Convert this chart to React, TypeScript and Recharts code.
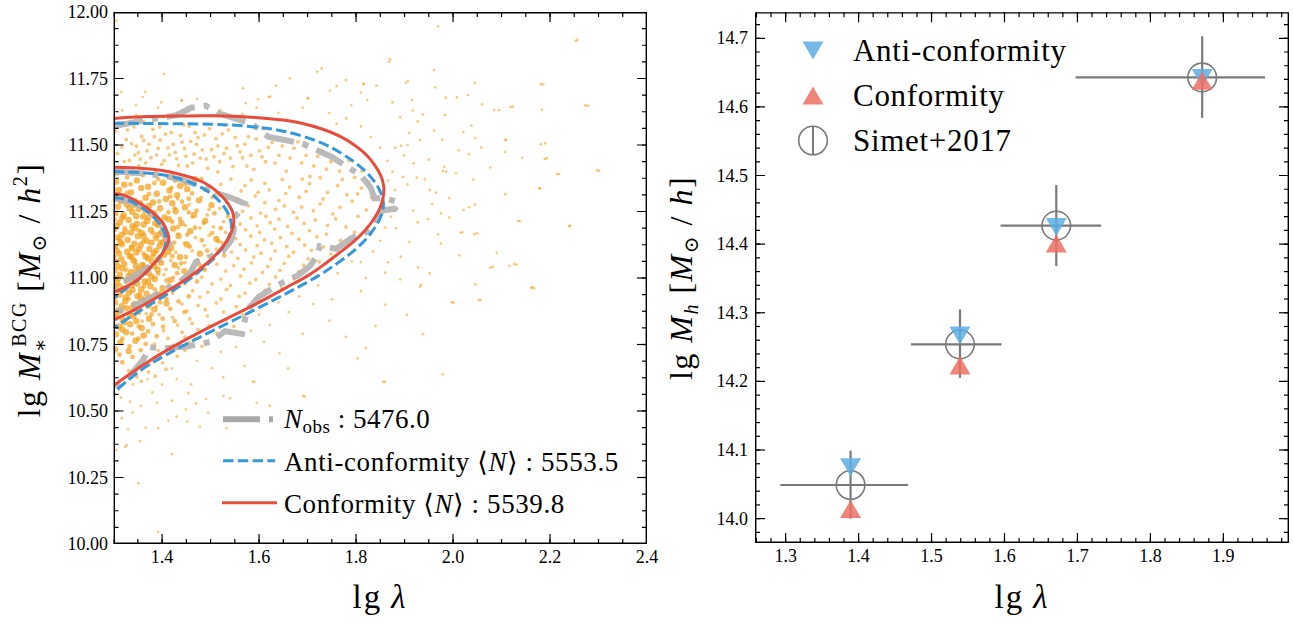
import React from 'react';
import { ScatterChart, Scatter, XAxis, YAxis, ErrorBar } from 'recharts';

const FONT = '"Liberation Serif", "DejaVu Serif", serif';

// ---------------- Left panel: axes ----------------
const leftXDomain = [1.3, 2.4];
const leftYDomain = [10.0, 12.0];
const leftXMajor = [1.4, 1.6, 1.8, 2.0, 2.2, 2.4];
const leftXLabels = ['1.4', '1.6', '1.8', '2.0', '2.2', '2.4'];
const leftYMajor = [10.0, 10.25, 10.5, 10.75, 11.0, 11.25, 11.5, 11.75, 12.0];
const leftYLabels = ['10.00', '10.25', '10.50', '10.75', '11.00', '11.25', '11.50', '11.75', '12.00'];

// ---------------- Right panel: axes ----------------
const rightXDomain = [1.258, 1.99];
const rightYDomain = [13.9645, 14.738];
const rightXMajor = [1.3, 1.4, 1.5, 1.6, 1.7, 1.8, 1.9];
const rightXLabels = ['1.3', '1.4', '1.5', '1.6', '1.7', '1.8', '1.9'];
const rightYMajor = [14.0, 14.1, 14.2, 14.3, 14.4, 14.5, 14.6, 14.7];
const rightYLabels = ['14.0', '14.1', '14.2', '14.3', '14.4', '14.5', '14.6', '14.7'];

// ---------------- Left panel: legend numbers ----------------
const nObs = '5476.0';
const nAnti = '5553.5';
const nConf = '5539.8';

// ---------------- Left panel: contours (lg lambda, lg M*) ----------------
const redOuter = [
  [1.300, 11.600], [1.360, 11.606], [1.430, 11.609], [1.500, 11.610], [1.560, 11.607], [1.610, 11.601],
  [1.650, 11.594], [1.690, 11.581], [1.730, 11.560], [1.765, 11.534], [1.795, 11.502], [1.820, 11.465],
  [1.838, 11.425], [1.851, 11.385], [1.857, 11.345], [1.856, 11.305], [1.849, 11.262], [1.836, 11.220],
  [1.818, 11.178], [1.795, 11.137], [1.768, 11.098], [1.735, 11.052], [1.700, 11.008], [1.655, 10.963],
  [1.590, 10.899], [1.500, 10.817], [1.420, 10.739], [1.360, 10.672], [1.300, 10.596],
];
const blueOuter = [
  [1.300, 11.582], [1.360, 11.581], [1.430, 11.580], [1.500, 11.578], [1.560, 11.573], [1.610, 11.564],
  [1.650, 11.552], [1.690, 11.533], [1.730, 11.507], [1.765, 11.474], [1.795, 11.438], [1.820, 11.400],
  [1.838, 11.362], [1.850, 11.325], [1.856, 11.290], [1.855, 11.255], [1.847, 11.215], [1.832, 11.172],
  [1.812, 11.130], [1.787, 11.090], [1.757, 11.050], [1.722, 11.008], [1.680, 10.965], [1.630, 10.917],
  [1.565, 10.857], [1.490, 10.789], [1.410, 10.713], [1.350, 10.645], [1.300, 10.568],
];
const redMid = [
  [1.300, 11.416], [1.360, 11.412], [1.400, 11.404], [1.430, 11.393], [1.460, 11.378], [1.485, 11.360],
  [1.505, 11.337], [1.522, 11.310], [1.536, 11.280], [1.545, 11.250], [1.548, 11.220], [1.546, 11.190],
  [1.540, 11.160], [1.528, 11.125], [1.512, 11.090], [1.492, 11.055], [1.468, 11.020], [1.440, 10.984],
  [1.410, 10.950], [1.380, 10.917], [1.345, 10.882], [1.300, 10.842],
];
const blueMid = [
  [1.300, 11.400], [1.360, 11.396], [1.400, 11.388], [1.430, 11.376], [1.460, 11.358], [1.485, 11.336],
  [1.505, 11.311], [1.520, 11.285], [1.532, 11.256], [1.540, 11.226], [1.543, 11.196], [1.539, 11.160],
  [1.529, 11.125], [1.514, 11.090], [1.494, 11.052], [1.470, 11.015], [1.442, 10.977], [1.411, 10.940],
  [1.380, 10.905], [1.345, 10.866], [1.300, 10.811],
];
const redInner = [
  [1.300, 11.318], [1.320, 11.312], [1.340, 11.296], [1.360, 11.274], [1.378, 11.250], [1.393, 11.225],
  [1.404, 11.200], [1.411, 11.172], [1.414, 11.150], [1.411, 11.125], [1.403, 11.100], [1.392, 11.072],
  [1.378, 11.045], [1.360, 11.010], [1.340, 10.982], [1.320, 10.962], [1.300, 10.947],
];
const blueInner = [
  [1.300, 11.303], [1.320, 11.298], [1.340, 11.284], [1.360, 11.262], [1.377, 11.238], [1.391, 11.212],
  [1.401, 11.186], [1.407, 11.160], [1.408, 11.135], [1.404, 11.108], [1.395, 11.080], [1.382, 11.050],
  [1.364, 11.015], [1.344, 10.984], [1.322, 10.955], [1.300, 10.924],
];
const grayOuter = [
  [1.300, 11.570], [1.340, 11.585], [1.390, 11.600], [1.430, 11.612], [1.460, 11.640], [1.490, 11.648],
  [1.515, 11.620], [1.550, 11.600], [1.585, 11.580], [1.620, 11.530], [1.650, 11.520], [1.690, 11.505],
  [1.720, 11.480], [1.750, 11.455], [1.780, 11.420], [1.810, 11.385], [1.830, 11.340], [1.838, 11.300],
  [1.860, 11.300], [1.888, 11.285], [1.880, 11.260], [1.855, 11.255], [1.838, 11.215], [1.825, 11.175],
  [1.790, 11.150], [1.760, 11.110], [1.725, 11.120], [1.720, 11.085], [1.705, 11.045], [1.680, 11.010],
  [1.640, 10.975], [1.600, 10.930], [1.575, 10.880], [1.565, 10.790], [1.530, 10.800], [1.500, 10.760],
  [1.450, 10.742], [1.400, 10.735], [1.375, 10.740], [1.360, 10.690], [1.330, 10.625], [1.300, 10.585],
];
const grayMid = [
  [1.300, 11.400], [1.350, 11.395], [1.400, 11.385], [1.440, 11.370], [1.480, 11.345], [1.515, 11.318],
  [1.545, 11.300], [1.570, 11.280], [1.560, 11.250], [1.545, 11.220], [1.548, 11.180], [1.542, 11.140],
  [1.525, 11.100], [1.500, 11.080], [1.470, 11.060], [1.458, 11.020], [1.440, 10.990], [1.410, 10.960],
  [1.380, 10.930], [1.340, 10.895], [1.300, 10.870],
];
const grayInner = [
  [1.300, 11.300], [1.330, 11.290], [1.360, 11.268], [1.385, 11.235], [1.400, 11.200], [1.405, 11.160],
  [1.415, 11.130], [1.405, 11.100], [1.390, 11.065], [1.370, 11.040], [1.345, 11.010], [1.320, 10.985],
  [1.305, 10.960],
];

// ---------------- Left panel: observed clusters (dense core) ----------------
const coreClusters = [
  [1.305,11.362],[1.322,11.351],[1.348,11.367],[1.371,11.343],[1.402,11.358],[1.437,11.346],[1.468,11.371],
  [1.311,11.331],[1.336,11.322],[1.357,11.338],[1.389,11.317],[1.415,11.329],[1.452,11.334],
  [1.302,11.298],[1.318,11.306],[1.344,11.289],[1.366,11.302],[1.381,11.284],[1.408,11.297],[1.431,11.311],[1.476,11.292],
  [1.309,11.268],[1.327,11.276],[1.352,11.259],[1.373,11.271],[1.396,11.262],[1.421,11.281],[1.447,11.266],[1.502,11.274],
  [1.304,11.243],[1.321,11.236],[1.339,11.248],[1.361,11.231],[1.384,11.244],[1.405,11.228],[1.428,11.251],[1.466,11.237],
  [1.313,11.209],[1.331,11.218],[1.348,11.203],[1.369,11.214],[1.392,11.199],[1.414,11.221],[1.440,11.206],[1.489,11.215],
  [1.301,11.183],[1.324,11.174],[1.343,11.188],[1.358,11.169],[1.377,11.181],[1.399,11.172],[1.423,11.186],[1.458,11.176],
  [1.308,11.152],[1.329,11.143],[1.350,11.157],[1.368,11.139],[1.387,11.151],[1.407,11.146],[1.434,11.158],[1.512,11.147],
  [1.303,11.118],[1.317,11.127],[1.338,11.112],[1.356,11.124],[1.374,11.109],[1.395,11.121],[1.419,11.114],[1.451,11.126],
  [1.311,11.092],[1.333,11.083],[1.347,11.096],[1.366,11.081],[1.383,11.094],[1.404,11.087],[1.437,11.079],[1.478,11.091],
  [1.305,11.061],[1.322,11.053],[1.341,11.066],[1.359,11.048],[1.379,11.062],[1.398,11.057],[1.426,11.049],
  [1.302,11.028],[1.318,11.036],[1.336,11.022],[1.353,11.033],[1.372,11.019],[1.391,11.031],[1.446,11.026],
  [1.309,10.998],[1.327,10.991],[1.345,11.004],[1.364,10.987],[1.385,10.996],[1.418,10.993],
  [1.304,10.968],[1.321,10.961],[1.338,10.974],[1.357,10.958],[1.376,10.969],[1.401,10.962],
  [1.312,10.938],[1.331,10.945],[1.349,10.932],[1.368,10.941],[1.392,10.936],
  [1.303,10.907],[1.324,10.913],[1.343,10.902],[1.362,10.917],[1.409,10.904],
  [1.308,10.878],[1.327,10.886],[1.351,10.873],[1.384,10.882],
  [1.302,10.851],[1.319,10.843],[1.341,10.856],[1.373,10.847],
  [1.311,10.818],[1.334,10.826],[1.358,10.812],
  [1.305,10.788],[1.326,10.796],[1.362,10.784],
  [1.314,10.758],[1.345,10.764],
  [1.303,10.731],[1.331,10.726],
  [1.315,11.289],[1.333,11.262],[1.355,11.281],[1.318,11.227],[1.347,11.232],[1.372,11.229],[1.307,11.197],[1.339,11.195],[1.362,11.201],[1.386,11.206],
  [1.317,11.163],[1.336,11.171],[1.362,11.158],[1.392,11.163],[1.314,11.135],[1.343,11.129],[1.378,11.133],[1.402,11.133],[1.306,11.104],[1.328,11.099],
  [1.352,11.108],[1.388,11.103],[1.413,11.099],[1.316,11.071],[1.337,11.079],[1.371,11.074],[1.392,11.069],[1.309,11.043],[1.346,11.046],[1.365,11.037],
  [1.384,11.045],[1.313,11.012],[1.331,11.009],[1.357,11.016],[1.378,11.006],[1.307,10.983],[1.349,10.979],[1.371,10.986],[1.316,10.953],[1.339,10.955],
  [1.325,10.927],[1.356,10.924],[1.317,10.894],[1.339,10.889],[1.372,10.896],[1.306,10.866],[1.333,10.862],[1.322,10.834],[1.347,10.838],[1.318,10.806],
];

// ---------------- Left panel: observed clusters (around the middle contour) ----------------
const ringClusters = [
  [1.447,11.352],[1.462,11.318],[1.489,11.331],[1.427,11.366],[1.481,11.372],[1.513,11.318],[1.419,11.339],[1.455,11.298],[1.471,11.253],[1.508,11.243],
  [1.536,11.232],[1.521,11.187],[1.486,11.207],[1.455,11.247],[1.437,11.222],[1.468,11.189],[1.503,11.169],[1.538,11.152],[1.516,11.138],[1.482,11.142],
  [1.452,11.163],[1.425,11.133],[1.457,11.118],[1.493,11.103],[1.528,11.085],[1.505,11.071],[1.478,11.047],[1.449,11.079],[1.421,11.082],[1.439,11.055],
  [1.488,11.031],[1.457,11.004],[1.431,11.018],[1.409,10.991],[1.447,10.981],[1.472,10.987],[1.425,10.957],[1.455,10.931],[1.409,10.921],[1.434,10.912],
  [1.396,10.908],[1.417,10.884],[1.446,10.872],[1.401,10.847],[1.378,10.863],[1.426,10.838],[1.381,10.827],[1.352,10.818],[1.402,10.817],[1.371,10.799],
  [1.338,10.791],[1.389,10.781],[1.351,10.772],[1.318,10.772],[1.366,10.752],[1.333,10.743],[1.312,10.712],[1.356,10.728],[1.339,10.703],[1.318,10.683],
  [1.307,11.392],[1.328,11.378],[1.361,11.387],[1.392,11.372],[1.411,11.384],[1.335,11.352],[1.384,11.357],[1.417,11.306],[1.441,11.287],[1.426,11.262],
  [1.413,11.247],[1.432,11.191],[1.421,11.211],[1.301,11.331],[1.327,11.319],[1.373,11.316],[1.394,11.288],[1.342,11.271],[1.364,11.249],[1.387,11.226],
  [1.323,11.187],[1.302,11.219],[1.352,11.179],[1.381,11.169],[1.404,11.161],[1.312,11.147],[1.336,11.117],[1.361,11.139],[1.396,11.137],[1.302,11.081],
  [1.344,11.062],[1.362,11.092],[1.381,11.082],[1.326,11.031],[1.344,11.027],[1.361,11.052],[1.392,11.017],[1.302,11.003],[1.338,10.994],[1.363,10.969],
  [1.385,10.957],[1.313,10.972],[1.331,10.921],[1.304,10.927],[1.354,10.941],[1.379,10.931],[1.315,10.873],[1.352,10.892],[1.366,10.902],[1.302,10.822],
];

// ---------------- Left panel: observed clusters (inside outer contour) ----------------
const midClusters = [
  [1.304,11.552],[1.317,11.493],[1.326,11.521],[1.333,11.442],[1.342,11.568],[1.351,11.471],[1.358,11.532],[1.366,11.433],[1.373,11.503],[1.381,11.559],
  [1.389,11.462],[1.396,11.518],[1.404,11.441],[1.412,11.489],[1.419,11.547],[1.427,11.472],[1.434,11.423],[1.441,11.511],[1.449,11.458],[1.456,11.571],
  [1.463,11.432],[1.471,11.502],[1.479,11.451],[1.487,11.538],[1.494,11.413],[1.502,11.483],[1.511,11.524],[1.519,11.437],[1.528,11.468],[1.537,11.556],
  [1.546,11.419],[1.555,11.497],[1.566,11.452],[1.578,11.531],[1.589,11.408],[1.601,11.478],[1.613,11.437],[1.627,11.509],[1.641,11.461],[1.656,11.402],
  [1.672,11.488],[1.688,11.433],[1.705,11.382],[1.721,11.458],[1.739,11.409],[1.312,11.583],[1.362,11.587],[1.445,11.576],[1.530,11.574],[1.610,11.561],
  [1.318,11.412],[1.339,11.391],[1.352,11.421],[1.386,11.398],[1.421,11.389],[1.347,11.496],[1.395,11.568],[1.468,11.547],[1.515,11.399],[1.575,11.421],
  [1.521,11.352],[1.571,11.348],[1.612,11.356],[1.663,11.342],[1.704,11.355],[1.762,11.347],[1.811,11.338],
  [1.503,11.302],[1.556,11.296],[1.592,11.308],[1.641,11.291],[1.683,11.304],[1.732,11.297],[1.792,11.289],
  [1.566,11.251],[1.603,11.244],[1.634,11.258],[1.671,11.247],[1.712,11.253],[1.752,11.241],[1.821,11.256],
  [1.561,11.203],[1.596,11.196],[1.623,11.208],[1.659,11.194],[1.693,11.205],[1.741,11.198],[1.779,11.192],
  [1.552,11.148],[1.583,11.157],[1.611,11.143],[1.644,11.152],[1.682,11.146],[1.719,11.155],[1.768,11.141],
  [1.543,11.098],[1.572,11.106],[1.604,11.093],[1.633,11.102],[1.671,11.097],[1.708,11.104],[1.748,11.091],
  [1.513,11.052],[1.548,11.046],[1.584,11.057],[1.618,11.043],[1.652,11.055],[1.692,11.048],[1.724,11.061],
  [1.482,11.003],[1.521,10.996],[1.562,11.007],[1.593,10.994],[1.634,11.004],[1.672,10.997],
  [1.463,10.952],[1.494,10.946],[1.533,10.957],[1.571,10.943],[1.612,10.954],[1.647,10.962],
  [1.441,10.903],[1.474,10.897],[1.512,10.906],[1.553,10.892],[1.591,10.901],
  [1.422,10.852],[1.457,10.846],[1.493,10.857],[1.532,10.843],[1.567,10.861],
  [1.403,10.802],[1.441,10.796],[1.474,10.806],[1.512,10.793],
  [1.384,10.752],[1.423,10.747],[1.456,10.756],[1.482,10.743],
  [1.362,10.702],[1.393,10.696],[1.431,10.706],
  [1.331,10.652],[1.372,10.647],[1.408,10.657],
  [1.432,11.298],[1.456,11.276],[1.481,11.303],[1.497,11.258],[1.519,11.262],[1.462,11.229],[1.493,11.237],[1.527,11.212],[1.448,11.197],[1.478,11.188],
  [1.506,11.192],[1.531,11.171],[1.433,11.166],[1.469,11.152],[1.497,11.161],[1.523,11.133],[1.446,11.131],[1.487,11.122],[1.512,11.108],[1.428,11.097],
  [1.462,11.102],[1.495,11.083],[1.418,11.066],[1.447,11.058],[1.473,11.068],[1.408,11.032],[1.434,11.038],[1.461,11.027],[1.404,11.012],[1.423,11.003],
  [1.413,10.977],[1.436,10.968],[1.397,10.948],[1.422,10.943],[1.381,10.922],[1.401,10.927],[1.388,10.893],[1.367,10.866],[1.394,10.862],[1.359,10.838],
  [1.308,11.468],[1.322,11.438],[1.329,11.557],[1.337,11.505],[1.344,11.462],[1.355,11.447],[1.362,11.517],[1.369,11.478],[1.377,11.452],[1.384,11.531],
  [1.392,11.487],[1.399,11.428],[1.407,11.541],[1.415,11.463],[1.423,11.502],[1.430,11.448],[1.438,11.536],[1.446,11.487],[1.452,11.421],[1.459,11.514],
  [1.466,11.466],[1.474,11.528],[1.483,11.482],[1.491,11.447],[1.498,11.561],[1.507,11.456],[1.515,11.497],[1.524,11.542],[1.533,11.488],[1.541,11.451],
  [1.551,11.529],[1.561,11.474],[1.571,11.503],[1.583,11.461],[1.594,11.523],[1.606,11.455],[1.619,11.491],[1.633,11.432],[1.648,11.497],[1.664,11.451],
  [1.680,11.512],[1.697,11.461],[1.713,11.421],[1.730,11.478],[1.748,11.437],[1.766,11.402],[1.785,11.441],[1.797,11.378],[1.812,11.402],[1.826,11.361],
  [1.542,11.372],[1.563,11.327],[1.584,11.368],[1.598,11.322],[1.621,11.331],[1.648,11.371],[1.655,11.318],[1.689,11.372],[1.697,11.326],[1.726,11.377],
  [1.741,11.322],[1.772,11.371],[1.781,11.313],[1.803,11.316],[1.832,11.302],[1.578,11.272],[1.612,11.283],[1.652,11.271],[1.688,11.267],[1.726,11.279],
  [1.767,11.266],[1.804,11.232],[1.583,11.226],[1.614,11.232],[1.641,11.221],[1.678,11.226],[1.716,11.218],[1.758,11.222],[1.797,11.172],[1.572,11.182],
  [1.601,11.171],[1.632,11.184],[1.668,11.168],[1.704,11.178],[1.739,11.165],[1.561,11.126],[1.596,11.122],[1.626,11.131],[1.657,11.118],[1.694,11.124],
  [1.733,11.117],[1.556,11.074],[1.589,11.079],[1.624,11.071],[1.661,11.081],[1.701,11.072],[1.531,11.026],[1.569,11.033],[1.607,11.021],[1.643,11.029],
  [1.682,11.024],[1.503,10.978],[1.541,10.972],[1.581,10.981],[1.621,10.976],[1.478,10.928],[1.521,10.921],[1.559,10.931],[1.600,10.925],[1.451,10.876],
  [1.489,10.881],[1.527,10.872],[1.548,10.818],[1.432,10.823],[1.462,10.829],[1.497,10.821],[1.412,10.773],[1.447,10.779],[1.468,10.772],[1.392,10.727],
  [1.418,10.721],[1.447,10.728],[1.374,10.674],[1.401,10.681],[1.348,10.628],[1.386,10.631],[1.321,10.604],[1.357,10.611],
];

// ---------------- Left panel: observed clusters (sparse outskirts) ----------------
const sparseClusters = [
  [1.969,11.945],[2.253,11.892],[1.868,11.813],[1.961,11.782],[1.815,11.732],[1.842,11.723],[1.903,11.734],[1.963,11.717],[2.045,11.734],[2.181,11.729],
  [1.810,11.697],[1.875,11.660],[1.915,11.669],[1.985,11.678],[2.031,11.688],[2.060,11.653],[2.085,11.632],[2.095,11.631],[2.118,11.643],[2.183,11.633],
  [2.273,11.649],[1.917,11.630],[1.891,11.604],[1.938,11.614],[1.983,11.612],[1.927,11.589],[2.038,11.573],[1.961,11.554],[2.021,11.548],[1.910,11.546],
  [2.046,11.526],[1.978,11.520],[1.932,11.519],[2.109,11.519],[2.181,11.503],[1.881,11.490],[1.893,11.497],[1.906,11.501],[2.012,11.480],[2.033,11.466],
  [2.058,11.491],[2.107,11.474],[2.143,11.452],[2.189,11.447],[1.899,11.461],[1.919,11.431],[1.950,11.445],[1.982,11.418],[2.006,11.394],[2.077,11.415],
  [2.214,11.391],[2.297,11.405],[1.897,11.380],[1.925,11.377],[1.942,11.371],[1.979,11.402],[1.906,11.352],[1.866,11.366],[1.952,11.331],[1.965,11.321],
  [2.042,11.370],[2.178,11.336],[1.992,11.300],[1.957,11.278],[2.033,11.266],[2.022,11.256],[1.918,11.253],[1.948,11.221],[1.992,11.227],[1.927,11.209],
  [2.134,11.214],[2.240,11.195],[1.882,11.187],[2.016,11.170],[2.044,11.164],[1.969,11.163],[1.910,11.135],[1.975,11.130],[2.013,11.085],[2.090,11.095],
  [1.892,11.080],[1.866,11.059],[1.928,11.040],[1.952,11.018],[2.077,11.039],[2.116,11.046],[2.126,11.053],[1.891,10.995],[1.932,10.967],[2.161,10.963],
  [2.046,10.976],[1.998,10.909],[2.053,10.917],
  [1.306,11.967],[1.404,11.767],[1.729,11.788],[1.720,11.776],[1.664,11.751],[1.635,11.723],[1.567,11.713],[1.316,11.700],[1.365,11.700],[1.441,11.667],
  [1.472,11.673],[1.346,11.650],[1.398,11.660],[1.572,11.657],[1.598,11.672],[1.623,11.682],[1.701,11.676],[1.746,11.704],[1.760,11.722],[1.779,11.744],
  [1.816,11.728],[1.823,11.669],[1.870,11.822],[1.907,11.741],[2.008,11.679],[2.123,11.644],[2.186,11.728],[2.256,11.895],[2.278,11.648],[2.301,11.403],
  [2.219,11.391],[2.179,11.337],[2.241,11.196],[2.138,11.214],[2.108,11.315],[2.045,11.276],[2.019,11.172],[2.049,11.168],[2.131,11.049],[2.082,11.042],
  [2.164,10.965],[1.934,10.974],[1.986,11.400],[1.975,11.243],[2.108,11.519],[2.190,11.506],[2.193,11.450],
  [1.318,11.630],[1.347,11.612],[1.392,11.641],[1.431,11.622],[1.470,11.611],[1.520,11.632],[1.566,11.616],[1.595,11.641],[1.360,11.680],[1.440,11.668],
  [1.620,11.680],[1.700,11.675],[1.640,11.621],[1.690,11.640],[1.745,11.620],[1.780,11.600],[1.810,11.570],[1.830,11.530],[1.850,11.490],[1.865,11.440],
  [1.875,11.400],[1.880,11.330],[1.873,11.290],[1.872,11.230],[1.860,11.190],[1.850,11.140],[1.835,11.100],[1.810,11.060],[1.820,11.000],[1.860,11.020],
  [1.760,11.580],[1.790,11.650],
  [1.600,10.862],[1.640,10.908],[1.683,10.931],[1.722,10.972],[1.762,11.018],[1.791,11.062],[1.661,10.872],[1.712,10.902],[1.622,10.823],[1.583,10.802],
  [1.552,10.741],[1.521,10.722],[1.472,10.689],[1.503,10.661],[1.642,10.717],[1.590,10.610],[1.694,10.554],[1.527,10.556],[1.779,10.779],[1.803,10.698],
  [1.820,10.736],[1.860,10.610],[1.979,10.638],[1.905,10.861],[1.938,10.789],[2.001,10.907],[2.057,10.917],[2.167,10.961],[1.745,10.840],[1.690,10.790],
  [1.660,10.660],[1.750,10.920],[1.810,10.950],[1.860,10.900],[1.840,10.820],[1.570,10.670],[1.610,10.760],
  [1.317,10.473],[1.330,10.431],[1.327,10.372],[1.354,10.387],[1.306,10.353],[1.351,10.228],[1.420,10.338],[1.392,10.046],[1.366,10.437],[1.392,10.435],
  [1.413,10.464],[1.430,10.479],[1.452,10.460],[1.478,10.441],[1.495,10.494],[1.533,10.435],[1.526,10.627],[1.587,10.610],[1.691,10.556],[1.856,10.610],
  [1.420,10.539],[1.454,10.567],[1.470,10.529],[1.491,10.545],[1.540,10.548],[1.595,10.531],[1.622,10.520],[1.449,10.506],[1.389,10.531],[1.334,10.535],
  [1.356,10.519],[1.339,10.494],[1.324,10.366],[1.310,10.580],[1.340,10.600],[1.370,10.620],[1.400,10.600],[1.430,10.620],[1.460,10.600],[1.380,10.570],
  [1.315,10.550],[1.420,10.660],[1.350,10.670],
];

// ---------------- Right panel: halo mass vs richness ----------------
const binLambda = [1.389, 1.539, 1.671, 1.871];
const binLambdaLo = [0.0964, 0.0672, 0.0764, 0.1734];
const binLambdaHi = [0.0787, 0.0569, 0.0614, 0.0861];
const simetMass = [14.049, 14.254, 14.427, 14.643];
const simetMassLo = [0.049, 0.049, 0.059, 0.059];
const simetMassHi = [0.050, 0.051, 0.059, 0.060];
const antiMass = [14.075, 14.267, 14.425, 14.642];
const confMass = [14.014, 14.223, 14.401, 14.638];

// ---------------- helpers ----------------
function steps(a: number, b: number, s: number): number[] {
  const out: number[] = [];
  const n = Math.round((b - a) / s);
  for (let i = 0; i <= n; i++) out.push(Number((a + i * s).toFixed(6)));
  return out;
}
const toPts = (arr: number[][]) => arr.map(([x, y]) => ({ x, y }));

const leftXMinor = steps(1.3, 2.4, 0.05);
const leftYMinor = steps(10.0, 12.0, 0.0625);
const rightXMinor = steps(1.26, 1.98, 0.02);
const rightYMinor = steps(13.98, 14.72, 0.02);

const emptyShape = () => <g />;

function labelTick(orient: 'bottom' | 'left', majors: number[], labels: string[], gap: number) {
  return (props: any) => {
    const x = Number(props.x);
    const y = Number(props.y);
    const v = Number(props.payload.value);
    const i = majors.findIndex((m) => Math.abs(m - v) < 1e-6);
    if (i < 0) return <g />;
    if (orient === 'bottom')
      return (
        <text x={x} y={y + 19} textAnchor="middle" fontFamily={FONT} fontSize={18} fill="#000">
          {labels[i]}
        </text>
      );
    return (
      <text x={x - gap} y={y + 6} textAnchor="end" fontFamily={FONT} fontSize={18} fill="#000">
        {labels[i]}
      </text>
    );
  };
}

// tick marks drawn as scatter glyphs anchored on the plot edges
const tickGlyph = (dx: number, dy: number) => (p: any) => (
  <path d={`M${p.cx},${p.cy}L${p.cx + dx},${p.cy + dy}`} stroke="#000" strokeWidth={1.2} fill="none" />
);

function frameSeries(xd: number[], yd: number[], xMaj: number[], xMin: number[], yMaj: number[], yMin: number[]) {
  const X0 = xd[0], X1 = xd[1], Y0 = yd[0], Y1 = yd[1];
  const box = [{ x: X0, y: Y0 }, { x: X1, y: Y0 }, { x: X1, y: Y1 }, { x: X0, y: Y1 }, { x: X0, y: Y0 }];
  const defs: [string, any[], number, number][] = [
    ['bM', xMaj.map((v) => ({ x: v, y: Y0 })), 0, -10],
    ['bm', xMin.map((v) => ({ x: v, y: Y0 })), 0, -5],
    ['tM', xMaj.map((v) => ({ x: v, y: Y1 })), 0, 10],
    ['tm', xMin.map((v) => ({ x: v, y: Y1 })), 0, 5],
    ['lM', yMaj.map((v) => ({ x: X0, y: v })), 10, 0],
    ['lm', yMin.map((v) => ({ x: X0, y: v })), 5, 0],
    ['rM', yMaj.map((v) => ({ x: X1, y: v })), -10, 0],
    ['rm', yMin.map((v) => ({ x: X1, y: v })), -5, 0],
  ];
  return [
    ...defs.map(([k, d, dx, dy]) => (
      <Scatter key={k} xAxisId="xb" yAxisId="yl" data={d} shape={tickGlyph(dx, dy)} isAnimationActive={false} />
    )),
    <Scatter
      key="frame" xAxisId="xb" yAxisId="yl" data={box} shape={emptyShape} isAnimationActive={false}
      line={{ stroke: '#000', strokeWidth: 2.8 }} lineJointType="linear"
    />,
  ];
}

const dotShape = (r: number, fill: string, op: number) => (p: any) => (
  <circle cx={p.cx} cy={p.cy} r={r} fill={fill} fillOpacity={op} />
);
const triDown = (p: any) => (
  <polygon
    points={`${p.cx - 10.5},${p.cy - 9} ${p.cx + 10.5},${p.cy - 9} ${p.cx},${p.cy + 9}`}
    fill="#5DADE2"
    fillOpacity={0.85}
  />
);
const triUp = (p: any) => (
  <polygon
    points={`${p.cx - 10.5},${p.cy + 9} ${p.cx + 10.5},${p.cy + 9} ${p.cx},${p.cy - 9}`}
    fill="#EC7063"
    fillOpacity={0.85}
  />
);
const openCircle = (p: any) => (
  <circle cx={p.cx} cy={p.cy} r={14.3} fill="none" stroke="#7a7a7a" strokeWidth={1.6} />
);

function LeftPanel() {
  const ORANGE = '#F39C12';
  return (
    <ScatterChart width={660} height={623} margin={{ top: 12, right: 13, bottom: 49, left: 53.6 }}>
      <XAxis
        xAxisId="xb" type="number" dataKey="x" domain={leftXDomain} allowDataOverflow ticks={leftXMajor}
        interval={0} height={30} tickSize={0} tickMargin={0} tickLine={false} axisLine={false}
        tick={labelTick('bottom', leftXMajor, leftXLabels, 0)}
      />
      <YAxis
        yAxisId="yl" type="number" dataKey="y" domain={leftYDomain} allowDataOverflow ticks={leftYMajor}
        interval={0} width={60} tickSize={0} tickMargin={0} tickLine={false} axisLine={false}
        tick={labelTick('left', leftYMajor, leftYLabels, 5.5)}
      />
      <Scatter xAxisId="xb" yAxisId="yl" data={toPts(sparseClusters)} shape={dotShape(1.35, ORANGE, 0.55)} isAnimationActive={false} />
      <Scatter xAxisId="xb" yAxisId="yl" data={toPts(midClusters)} shape={dotShape(1.9, ORANGE, 0.55)} isAnimationActive={false} />
      <Scatter xAxisId="xb" yAxisId="yl" data={toPts(ringClusters)} shape={dotShape(2.4, ORANGE, 0.65)} isAnimationActive={false} />
      <Scatter xAxisId="xb" yAxisId="yl" data={toPts(coreClusters)} shape={dotShape(3.2, ORANGE, 0.7)} isAnimationActive={false} />
      {[grayOuter, grayMid, grayInner].map((c, k) => (
        <Scatter
          key={'g' + k} xAxisId="xb" yAxisId="yl" data={toPts(c)} shape={emptyShape} isAnimationActive={false}
          line={{ stroke: '#b3b3b3', strokeWidth: 6, strokeOpacity: 0.9, strokeDasharray: '30 9 6 9' }}
          lineJointType="linear"
        />
      ))}
      {[blueOuter, blueMid, blueInner].map((c, k) => (
        <Scatter
          key={'b' + k} xAxisId="xb" yAxisId="yl" data={toPts(c)} shape={emptyShape} isAnimationActive={false}
          line={{ stroke: '#3498DB', strokeWidth: 3, strokeDasharray: '10.5 4.3' }}
          lineJointType="natural"
        />
      ))}
      {[redOuter, redMid, redInner].map((c, k) => (
        <Scatter
          key={'r' + k} xAxisId="xb" yAxisId="yl" data={toPts(c)} shape={emptyShape} isAnimationActive={false}
          line={{ stroke: '#E74C3C', strokeWidth: 3 }}
          lineJointType="natural"
        />
      ))}
      {frameSeries(leftXDomain, leftYDomain, leftXMajor, leftXMinor, leftYMajor, leftYMinor)}
    </ScatterChart>
  );
}

function RightPanel() {
  const simet = binLambda.map((x, i) => ({
    x,
    y: simetMass[i],
    ex: [binLambdaLo[i], binLambdaHi[i]],
    ey: [simetMassLo[i], simetMassHi[i]],
  }));
  const anti = binLambda.map((x, i) => ({ x, y: antiMass[i] }));
  const conf = binLambda.map((x, i) => ({ x, y: confMass[i] }));
  return (
    <ScatterChart width={633} height={623} margin={{ top: 12.2, right: 4, bottom: 50, left: 35 }}>
      <XAxis
        xAxisId="xb" type="number" dataKey="x" domain={rightXDomain} allowDataOverflow ticks={rightXMajor}
        interval={0} height={30} tickSize={0} tickMargin={0} tickLine={false} axisLine={false}
        tick={labelTick('bottom', rightXMajor, rightXLabels, 0)}
      />
      <YAxis
        yAxisId="yl" type="number" dataKey="y" domain={rightYDomain} allowDataOverflow ticks={rightYMajor}
        interval={0} width={60} tickSize={0} tickMargin={0} tickLine={false} axisLine={false}
        tick={labelTick('left', rightYMajor, rightYLabels, 7)}
      />
      <Scatter xAxisId="xb" yAxisId="yl" data={simet} shape={openCircle} isAnimationActive={false}>
        <ErrorBar dataKey="ex" direction="x" width={0} stroke="#7a7a7a" strokeWidth={2.2} isAnimationActive={false} />
        <ErrorBar dataKey="ey" direction="y" width={0} stroke="#7a7a7a" strokeWidth={2.2} isAnimationActive={false} />
      </Scatter>
      <Scatter xAxisId="xb" yAxisId="yl" data={anti} shape={triDown} isAnimationActive={false} />
      <Scatter xAxisId="xb" yAxisId="yl" data={conf} shape={triUp} isAnimationActive={false} />
      {frameSeries(rightXDomain, rightYDomain, rightXMajor, rightXMinor, rightYMajor, rightYMinor)}
    </ScatterChart>
  );
}

function Overlay() {
  const t = { fontFamily: FONT, fill: '#000' };
  const sub = 20;
  return (
    <svg width={1293} height={623} style={{ position: 'absolute', left: 0, top: 0, pointerEvents: 'none' }}>
      {/* x titles */}
      <text x={380} y={608} textAnchor="middle" fontSize={33} letterSpacing={2} {...t}>
        lg<tspan dx={9} fontStyle="italic">λ</tspan>
      </text>
      <text x={1022} y={608} textAnchor="middle" fontSize={33} letterSpacing={2} {...t}>
        lg<tspan dx={9} fontStyle="italic">λ</tspan>
      </text>
      {/* left y title */}
      <text transform="translate(40,290) rotate(-90)" textAnchor="middle" fontSize={32} letterSpacing={1.5} {...t}>
        <tspan>{'lg\u00a0'}</tspan>
        <tspan fontStyle="italic">M</tspan>
        <tspan fontSize={sub} dy={7}>∗</tspan>
        <tspan fontSize={sub} dx={-10} dy={-21}>BCG</tspan>
        <tspan dy={14}>{'\u00a0['}</tspan>
        <tspan fontStyle="italic">M</tspan>
        <tspan fontSize={sub} dy={6}>⊙</tspan>
        <tspan dy={-6}>{'\u00a0/\u00a0'}</tspan>
        <tspan fontStyle="italic">h</tspan>
        <tspan fontSize={sub} dy={-13}>2</tspan>
        <tspan dy={13}>]</tspan>
      </text>
      {/* right y title */}
      <text transform="translate(692,278) rotate(-90)" textAnchor="middle" fontSize={32} letterSpacing={1.5} {...t}>
        <tspan>{'lg\u00a0'}</tspan>
        <tspan fontStyle="italic">M</tspan>
        <tspan fontSize={sub} dy={6} fontStyle="italic">h</tspan>
        <tspan dy={-6}>{'\u00a0['}</tspan>
        <tspan fontStyle="italic">M</tspan>
        <tspan fontSize={sub} dy={6}>⊙</tspan>
        <tspan dy={-6}>{'\u00a0/\u00a0'}</tspan>
        <tspan fontStyle="italic">h</tspan>
        <tspan>]</tspan>
      </text>

      {/* left legend */}
      <line x1={223} x2={273} y1={419.3} y2={419.3} stroke="#a9a9a9" strokeWidth={6} strokeDasharray="37 9 6 9" />
      <line x1={223} x2={275} y1={460.7} y2={460.7} stroke="#3498DB" strokeWidth={3} strokeDasharray="10.5 4.3" />
      <line x1={222} x2={277} y1={502.7} y2={502.7} stroke="#E74C3C" strokeWidth={3} />
      <text x={284} y={428} fontSize={27} letterSpacing={0.5} {...t}>
        <tspan fontStyle="italic">N</tspan>
        <tspan fontSize={19} dy={5}>obs</tspan>
        <tspan dy={-5}>{'\u00a0:\u00a0' + nObs}</tspan>
      </text>
      <text x={284} y={471} fontSize={27} letterSpacing={0.6} {...t}>
        <tspan>{'Anti-conformity\u00a0⟨'}</tspan>
        <tspan fontStyle="italic">N</tspan>
        <tspan>{'⟩\u00a0:\u00a0' + nAnti}</tspan>
      </text>
      <text x={284} y={513} fontSize={27} letterSpacing={0.6} {...t}>
        <tspan>{'Conformity\u00a0⟨'}</tspan>
        <tspan fontStyle="italic">N</tspan>
        <tspan>{'⟩\u00a0:\u00a0' + nConf}</tspan>
      </text>

      {/* right legend */}
      <polygon points="802.5,41.5 823.5,41.5 813,59.5" fill="#5DADE2" fillOpacity={0.85} />
      <polygon points="802.5,104.5 823.5,104.5 813,86.5" fill="#EC7063" fillOpacity={0.85} />
      <circle cx={813} cy={140.5} r={14.3} fill="none" stroke="#7a7a7a" strokeWidth={1.6} />
      <line x1={813} x2={813} y1={126} y2={155} stroke="#7a7a7a" strokeWidth={2} />
      <text x={853} y={61} fontSize={31} letterSpacing={0.7} {...t}>Anti-conformity</text>
      <text x={853} y={106} fontSize={31} letterSpacing={0.7} {...t}>Conformity</text>
      <text x={853} y={151} fontSize={31} letterSpacing={0.7} {...t}>Simet+2017</text>
    </svg>
  );
}

export default function App() {
  return (
    <div style={{ position: 'absolute', left: 0, top: 0, width: 1293, height: 623, background: '#fff', overflow: 'hidden' }}>
      <div style={{ position: 'absolute', left: 0, top: 0 }}>
        <LeftPanel />
      </div>
      <div style={{ position: 'absolute', left: 660, top: 0 }}>
        <RightPanel />
      </div>
      <Overlay />
    </div>
  );
}
